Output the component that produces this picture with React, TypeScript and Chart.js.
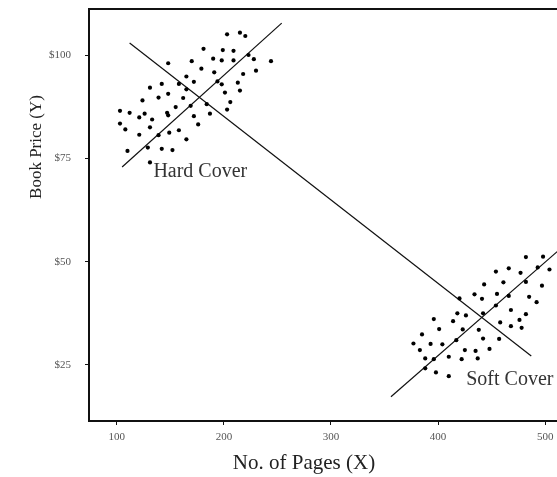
import React, { useEffect, useRef } from "react";
import { Chart, registerables } from "chart.js";

Chart.register(...registerables);

const xTicks = [100, 200, 300, 400, 500];
const yTicks = [25, 50, 75, 100];

const hardPages = [203, 215, 220, 181, 199, 209, 223, 148, 170, 190, 198, 209, 228, 244, 179, 191, 218, 230, 165, 131, 142, 158, 172, 194, 198, 213, 165, 124, 139, 148, 162, 201, 215, 184, 206, 155, 169, 203, 103, 112, 126, 121, 133, 147, 148, 172, 187, 103, 176, 108, 131, 121, 139, 149, 158, 165, 110, 129, 142, 152, 131];
const hardPrices = [105.0, 105.4, 104.6, 101.5, 101.2, 101.0, 100.0, 98.0, 98.5, 99.1, 98.7, 98.7, 99.0, 98.5, 96.7, 95.8, 95.4, 96.2, 94.8, 92.1, 93.0, 93.0, 93.5, 93.6, 92.9, 93.3, 91.7, 89.0, 89.7, 90.6, 89.6, 90.9, 91.4, 88.1, 88.6, 87.4, 87.7, 86.8, 86.5, 86.0, 85.8, 84.9, 84.4, 86.0, 85.4, 85.2, 85.8, 83.4, 83.2, 82.0, 82.5, 80.7, 80.6, 81.2, 81.8, 79.6, 76.8, 77.6, 77.3, 77.0, 74.0];

const softPages = [482, 498, 466, 477, 493, 504, 454, 461, 482, 443, 497, 434, 455, 466, 485, 441, 420, 454, 492, 468, 418, 426, 442, 482, 396, 414, 458, 476, 401, 423, 438, 468, 478, 385, 417, 442, 457, 377, 393, 404, 383, 425, 435, 448, 388, 396, 410, 422, 437, 388, 398, 410];
const softPrices = [51.1, 51.2, 48.4, 47.3, 48.6, 48.1, 47.6, 45.0, 45.1, 44.5, 44.2, 42.1, 42.2, 41.7, 41.5, 41.0, 41.1, 39.4, 40.2, 38.3, 37.5, 37.0, 37.5, 37.3, 36.1, 35.6, 35.3, 35.9, 33.7, 33.6, 33.5, 34.4, 34.0, 32.4, 31.0, 31.4, 31.3, 30.2, 30.1, 30.0, 28.6, 28.6, 28.4, 28.9, 26.6, 26.4, 27.0, 26.4, 26.6, 24.2, 23.2, 22.3];

const hardFitPages = [105, 254];
const hardFitPrices = [72.9, 107.7];
const trendPages = [112, 487];
const trendPrices = [102.9, 27.2];
const softFitPages = [356, 512];
const softFitPrices = [17.3, 52.6];

const labelTexts = ["Hard Cover", "Soft Cover"];
const labelPages = [178, 467];
const labelPrices = [71.7, 21.4];

const X_MIN = 74.07;
const X_MAX = 524.1;
const Y_MIN = 11.45;
const Y_MAX = 111.13;

const SERIF = "'Liberation Serif', 'DejaVu Serif', serif";

const toPts = (xs: number[], ys: number[]) => xs.map((x, i) => ({ x, y: ys[i] }));

const decorPlugin = {
  id: "decor",
  afterDraw(chart: any) {
    const { ctx, chartArea, scales } = chart;
    ctx.save();
    ctx.strokeStyle = "#111";
    ctx.lineWidth = 2;
    ctx.beginPath();
    ctx.moveTo(chartArea.left - 1, chartArea.top);
    ctx.lineTo(chartArea.right, chartArea.top);
    ctx.stroke();
    ctx.fillStyle = "#333";
    ctx.font = `20px ${SERIF}`;
    ctx.textAlign = "center";
    ctx.textBaseline = "middle";
    labelTexts.forEach((t, i) => {
      ctx.fillText(t, scales.x.getPixelForValue(labelPages[i]), scales.y.getPixelForValue(labelPrices[i]));
    });
    ctx.fillStyle = "#222";
    ctx.font = `21px ${SERIF}`;
    ctx.fillText("No. of Pages (X)", chartArea.left + 215, chartArea.bottom + 42);
    ctx.translate(chartArea.left - 52, chartArea.top + 138);
    ctx.rotate(-Math.PI / 2);
    ctx.font = `17px ${SERIF}`;
    ctx.fillText("Book Price (Y)", 0, 0);
    ctx.restore();
  },
};

export default function App() {
  const ref = useRef<HTMLCanvasElement>(null);
  useEffect(() => {
    if (!ref.current) return;
    const lineDs = (xs: number[], ys: number[]) => ({
      type: "line" as const,
      data: toPts(xs, ys),
      borderColor: "#111",
      borderWidth: 1.2,
      pointRadius: 0,
      showLine: true,
      fill: false,
    });
    const chart = new Chart(ref.current, {
      type: "scatter",
      data: {
        datasets: [
          { data: toPts(hardPages, hardPrices), backgroundColor: "#000", borderColor: "#000", pointRadius: 2.1, borderWidth: 0 },
          { data: toPts(softPages, softPrices), backgroundColor: "#000", borderColor: "#000", pointRadius: 2.1, borderWidth: 0 },
          lineDs(hardFitPages, hardFitPrices),
          lineDs(trendPages, trendPrices),
          lineDs(softFitPages, softFitPrices),
        ] as any,
      },
      options: {
        responsive: false,
        animation: false,
        layout: { padding: { top: 9, right: 0, left: 0, bottom: 0 } },
        plugins: { legend: { display: false }, tooltip: { enabled: false } },
        scales: {
          x: {
            type: "linear",
            min: X_MIN,
            max: X_MAX,
            afterBuildTicks: (s: any) => { s.ticks = xTicks.map((v) => ({ value: v })); },
            afterFit: (s: any) => { s.height = 56; s.paddingLeft = 0; s.paddingRight = 0; },
            grid: { display: true, drawOnChartArea: false, drawTicks: true, tickLength: 4, color: "#111", lineWidth: 1 },
            border: { display: true, color: "#111", width: 2 },
            ticks: {
              padding: 6,
              color: "#555",
              font: { family: SERIF, size: 11 },
              maxRotation: 0,
              callback: (v: any) => String(v),
            },
          },
          y: {
            type: "linear",
            min: Y_MIN,
            max: Y_MAX,
            afterBuildTicks: (s: any) => { s.ticks = yTicks.map((v) => ({ value: v })); },
            afterFit: (s: any) => { s.width = 89; s.paddingTop = 0; s.paddingBottom = 0; },
            grid: { display: true, drawOnChartArea: false, drawTicks: true, tickLength: 4, color: "#111", lineWidth: 1 },
            border: { display: true, color: "#111", width: 2 },
            ticks: {
              padding: 14,
              color: "#555",
              font: { family: SERIF, size: 11 },
              callback: (v: any) => "$" + v,
            },
          },
        },
      },
      plugins: [decorPlugin],
    });
    return () => chart.destroy();
  }, []);
  return (
    <div style={{ position: "absolute", left: 0, top: 0, width: 557, height: 477, overflow: "hidden", background: "#fff" }}>
      <canvas ref={ref} width={575} height={477} style={{ display: "block" }} />
    </div>
  );
}
